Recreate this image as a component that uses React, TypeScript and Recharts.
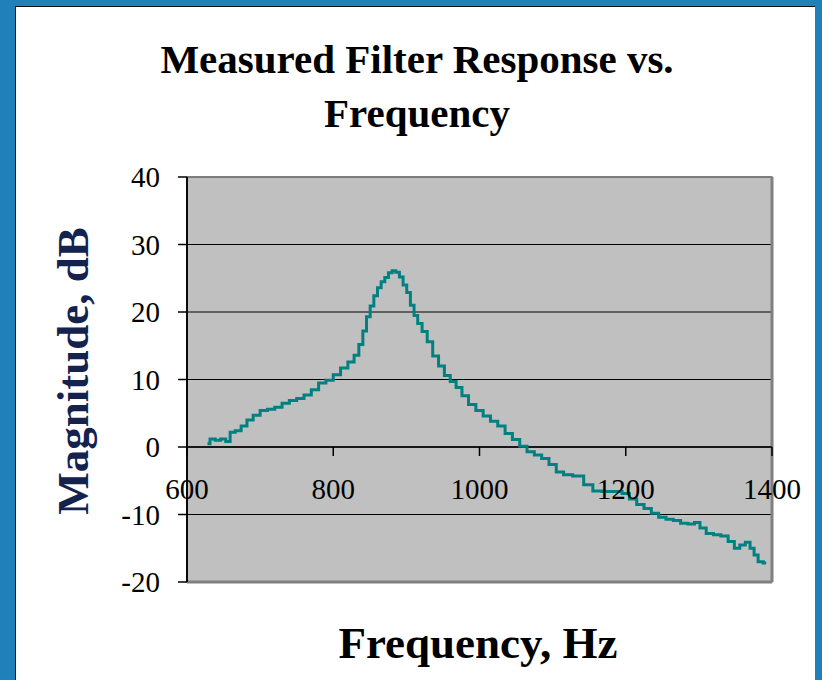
import React from 'react';
import { LineChart, Line, XAxis, YAxis, CartesianGrid, ReferenceLine, ReferenceArea } from 'recharts';

const FREQS = [
  628, 635, 642, 650, 656, 662, 670, 678, 686, 695, 705, 715, 725, 735, 745, 755, 765, 775, 785, 795,
  805, 815, 825, 832, 838, 843, 848, 853, 858, 863, 868, 873, 878, 883, 888, 893, 898, 903, 908, 913,
  918, 925, 932, 940, 948, 956, 964, 972, 980, 990, 1000, 1010, 1020, 1030, 1040, 1050, 1060, 1070, 1080, 1090,
  1100, 1110, 1120, 1135, 1150, 1160, 1175, 1190, 1200, 1210, 1220, 1230, 1240, 1250, 1260, 1270, 1280, 1290, 1298, 1305,
  1315, 1325, 1335, 1345, 1352, 1360, 1367, 1373, 1378, 1384, 1392,
];
const MAGS = [
  0.5, 1.2, 1.0, 1.2, 0.8, 2.2, 2.4, 3.1, 4.0, 4.7, 5.4, 5.6, 5.9, 6.5, 6.9, 7.2, 7.7, 8.5, 9.5, 9.9,
  10.7, 11.7, 12.6, 13.6, 15.2, 17.2, 19.3, 20.9, 22.4, 23.6, 24.5, 25.1, 25.8, 26.1, 25.9, 25.2, 24.0, 22.9, 21.0, 19.5,
  18.3, 17.1, 15.6, 13.5, 12.0, 10.6, 9.7, 8.8, 7.6, 6.3, 5.4, 4.6, 3.8, 3.1, 2.0, 1.1, 0.1, -0.7, -1.2, -1.7,
  -2.6, -3.7, -4.1, -4.3, -5.6, -6.5, -6.6, -6.6, -6.9, -7.7, -8.5, -9.1, -9.8, -10.4, -10.7, -10.9, -11.3, -11.4, -11.2, -12.0,
  -12.8, -13.0, -13.2, -14.0, -15.0, -14.5, -14.1, -15.0, -16.0, -17.0, -17.2,
];
const X_TICKS = [600, 800, 1000, 1200, 1400];
const Y_TICKS = [-20, -10, 0, 10, 20, 30, 40];

const data = FREQS.map((f, i) => ({ f, mag: MAGS[i] }));

const W = 822;
const H = 680;
const PLOT_TOP = 177;
const PLOT_H = 405;
const ZERO_Y = PLOT_TOP + (PLOT_H * 40) / 60;
const SERIF = '"Liberation Serif", "Times New Roman", serif';

// x ticks sit on the zero line, not at the bottom of the plot
const XTick = (props: any) => {
  const { x, payload } = props;
  return (
    <g>
      <line x1={x} x2={x} y1={ZERO_Y} y2={ZERO_Y + 9} stroke="#000" strokeWidth={1.5} />
      <text x={x} y={ZERO_Y + 52} textAnchor="middle" fontSize={29} fontFamily={SERIF} fill="#000">
        {payload.value}
      </text>
    </g>
  );
};

export default function App() {
  return (
    <div style={{ position: 'absolute', left: 0, top: 0, width: W, height: H, background: '#2080b9', overflow: 'hidden' }}>
      <div style={{ position: 'absolute', left: 15, top: 6, width: 799, height: 700, background: '#fff', borderLeft: '1px solid #111', borderTop: '1px solid #111' }} />
      <div style={{ position: 'absolute', left: 0, top: 0 }}>
        <LineChart width={W} height={H} data={data} margin={{ top: PLOT_TOP, right: 50, bottom: H - PLOT_TOP - PLOT_H - 30, left: 127 }}>
          <CartesianGrid vertical={false} horizontal={true} stroke="#000" strokeWidth={1.2} fill="#c0c0c0" />
          <XAxis
            dataKey="f"
            type="number"
            domain={[600, 1400]}
            ticks={X_TICKS}
            interval={0}
            height={30}
            axisLine={false}
            tickLine={false}
            tick={<XTick />}
          />
          <YAxis
            type="number"
            domain={[-20, 40]}
            ticks={Y_TICKS}
            interval={0}
            width={60}
            axisLine={{ stroke: '#000', strokeWidth: 1.5 }}
            tickLine={{ stroke: '#000', strokeWidth: 1.5 }}
            tickSize={9}
            tickMargin={18}
            tick={{ fontSize: 29, fontFamily: SERIF, fill: '#000' }}
          />
          <ReferenceArea x1={600} x2={1400} y1={-20} y2={40} fill="none" stroke="#808080" strokeWidth={1.5} ifOverflow="visible" />
          <ReferenceLine x={1400} stroke="#808080" strokeWidth={3} />
          <ReferenceLine y={-20} stroke="#808080" strokeWidth={3} />
          <ReferenceLine y={0} stroke="#000" strokeWidth={1.5} />
          <ReferenceLine x={600} stroke="#000" strokeWidth={1.5} />
          <Line
            dataKey="mag"
            type="step"
            stroke="#008080"
            strokeWidth={3}
            dot={false}
            isAnimationActive={false}
          />
        </LineChart>
      </div>
      <div style={{ position: 'absolute', left: 417, top: 32, transform: 'translateX(-50%)', whiteSpace: 'nowrap', textAlign: 'center', fontFamily: SERIF, fontWeight: 'bold', fontSize: 41, lineHeight: '54px', color: '#000' }}>
        Measured Filter Response vs.
        <br />
        Frequency
      </div>
      <div style={{ position: 'absolute', left: 478, top: 618, transform: 'translateX(-50%)', whiteSpace: 'nowrap', fontFamily: SERIF, fontWeight: 'bold', fontSize: 45, lineHeight: '50px', color: '#000' }}>
        Frequency, Hz
      </div>
      <div style={{ position: 'absolute', left: 73, top: 371, transform: 'translate(-50%, -50%) rotate(-90deg)', whiteSpace: 'nowrap', fontFamily: SERIF, fontWeight: 'bold', fontSize: 45, lineHeight: '50px', color: '#14224e' }}>
        Magnitude, dB
      </div>
    </div>
  );
}
